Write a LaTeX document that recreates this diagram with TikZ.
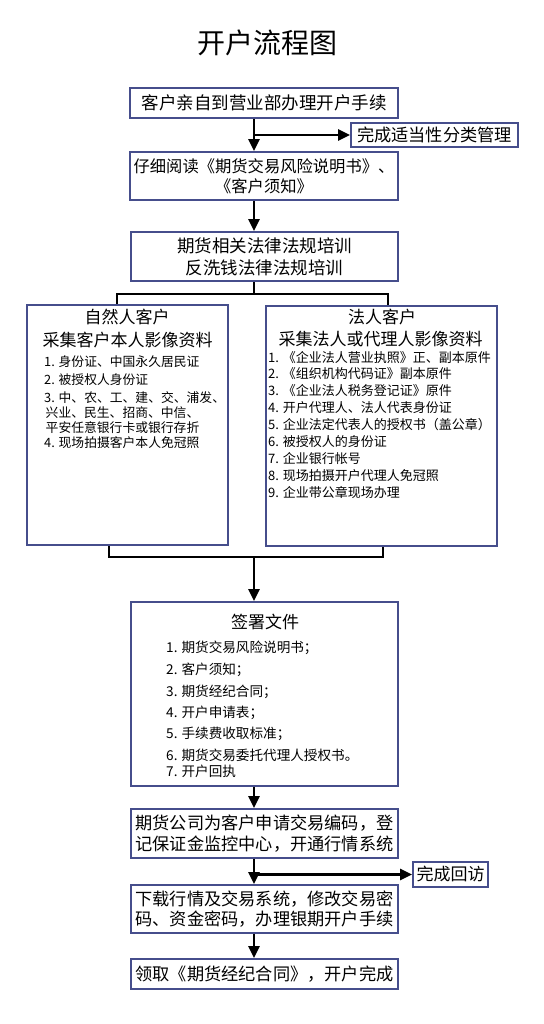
\documentclass[tikz,border=0pt]{standalone}
\usepackage{fontspec}
\setmainfont{Noto Sans CJK SC}
\usetikzlibrary{arrows.meta}
\definecolor{boxline}{RGB}{70,78,140}
\tikzset{
  box/.style={draw=boxline,line width=1.8pt,inner sep=0pt,align=center,
    font=\fontsize{17.5}{20.5}\selectfont},
  conn/.style={line width=2.4pt,black},
  arr/.style={conn,-{Triangle[width=11pt,length=12pt]}},
  head/.style={inner sep=0pt,font=\fontsize{17}{20}\selectfont},
  item/.style={inner sep=0pt,anchor=west,font=\fontsize{13.6}{16}\selectfont},
  iteml/.style={inner sep=0pt,anchor=west,font=\fontsize{12.8}{15}\selectfont},
  itemr/.style={inner sep=0pt,anchor=west,font=\fontsize{13}{15}\selectfont},
}
\begin{document}
\begin{tikzpicture}[x=1pt,y=-1pt]
\useasboundingbox[fill=white] (0,0) rectangle (543,1024);
% title
\node[inner sep=0pt,font=\fontsize{28}{30}\selectfont] (title) at (267,43) {开户流程图};
% main column boxes
\node[box,minimum width=268,minimum height=30] (b1) at (264,103) {客户亲自到营业部办理开户手续};
\node[box,minimum width=167,minimum height=24,font=\fontsize{17.2}{20}\selectfont] (s1) at (434.5,135) {完成适当性分类管理};
\node[box,minimum width=268,minimum height=48,font=\fontsize{16.3}{20}\selectfont] (b2) at (264,176) {仔细阅读《期货交易风险说明书》、\\《客户须知》};
\node[box,minimum width=267,minimum height=49,font=\fontsize{17.5}{22}\selectfont] (b3) at (264.5,256.5) {期货相关法律法规培训\\反洗钱法律法规培训};
% left / right boxes
\node[box,minimum width=201,minimum height=240] (L) at (127.5,425) {};
\node[box,minimum width=231,minimum height=240] (R) at (381.5,426) {};
\node[head] (Lh1) at (127,317) {自然人客户};
\node[head] (Lh2) at (127.5,340) {采集客户本人影像资料};
\node[iteml] (Li1) at (44,362) {1. 身份证、中国永久居民证};
\node[iteml] (Li2) at (44,380) {2. 被授权人身份证};
\node[iteml] (Li3) at (44,398) {3. 中、农、工、建、交、浦发、};
\node[iteml] (Li3b) at (45.5,413) {兴业、民生、招商、中信、};
\node[iteml] (Li3c) at (45.5,428) {平安任意银行卡或银行存折};
\node[iteml] (Li4) at (44,443) {4. 现场拍摄客户本人免冠照};
\node[head] (Rh1) at (382,317) {法人客户};
\node[head] (Rh2) at (380.5,339) {采集法人或代理人影像资料};
\node[itemr] (Ri1) at (268,358) {1. 《企业法人营业执照》正、副本原件};
\node[itemr] (Ri2) at (268,374) {2. 《组织机构代码证》副本原件};
\node[itemr] (Ri3) at (268,391) {3. 《企业法人税务登记证》原件};
\node[itemr] (Ri4) at (268,407.5) {4. 开户代理人、法人代表身份证};
\node[itemr] (Ri5) at (268,425) {5. 企业法定代表人的授权书（盖公章）};
\node[itemr] (Ri6) at (268,442) {6. 被授权人的身份证};
\node[itemr] (Ri7) at (268,458.5) {7. 企业银行帐号};
\node[itemr] (Ri8) at (268,475.5) {8. 现场拍摄开户代理人免冠照};
\node[itemr] (Ri9) at (268,492) {9. 企业带公章现场办理};
% signing box
\node[box,minimum width=267,minimum height=184] (S) at (264.5,694) {};
\node[head] (Sh) at (265,622) {签署文件};
\node[item] (S1) at (166,648) {1. 期货交易风险说明书；};
\node[item] (S2) at (166,670) {2. 客户须知；};
\node[item] (S3) at (166,692) {3. 期货经纪合同；};
\node[item] (S4) at (166,713) {4. 开户申请表；};
\node[item] (S5) at (166,734) {5. 手续费收取标准；};
\node[item] (S6) at (166,755) {6. 期货交易委托代理人授权书。};
\node[item] (S7) at (166,771) {7. 开户回执};
% lower boxes
\node[box,minimum width=267,minimum height=49,font=\fontsize{17.2}{21}\selectfont] (b5) at (264.5,833.5) {期货公司为客户申请交易编码，登\\记保证金监控中心，开通行情系统};
\node[box,minimum width=75,minimum height=25,font=\fontsize{17}{20}\selectfont] (s2) at (450.5,874.5) {完成回访};
\node[box,minimum width=267,minimum height=48,font=\fontsize{17.2}{20.5}\selectfont] (b6) at (264.5,909) {下载行情及交易系统，修改交易密\\码、资金密码，办理银期开户手续};
\node[box,minimum width=267,minimum height=30,font=\fontsize{17.2}{20}\selectfont] (b7) at (264.5,974) {领取《期货经纪合同》，开户完成};
% connector helper coordinates
\coordinate (ax) at (254,0);
\coordinate (split) at (254,294);
\coordinate (merge) at (254,557);
\coordinate (lx) at (117,0);
\coordinate (rx) at (388,0);
\coordinate (lx2) at (109,0);
\coordinate (rx2) at (383,0);
% connectors
\draw[arr] (b1.south -| ax) -- (b2.north -| ax);
\draw[arr] (ax |- s1.west) -- (s1.west);
\draw[arr] (b2.south -| ax) -- (b3.north -| ax);
\draw[conn] (b3.south -| ax) -- (split);
\draw[conn,line join=miter] (L.north -| lx) |- (split) -| (R.north -| rx);
\draw[conn,line join=miter] (L.south -| lx2) |- (merge) -| (R.south -| rx2);
\draw[arr] (merge) -- (S.north -| ax);
\draw[arr] (S.south -| ax) -- (b5.north -| ax);
\draw[arr] (b5.south -| ax) -- (b6.north -| ax);
\draw[arr] (ax |- s2.west) -- (s2.west);
\draw[arr] (b6.south -| ax) -- (b7.north -| ax);
\end{tikzpicture}
\end{document}
